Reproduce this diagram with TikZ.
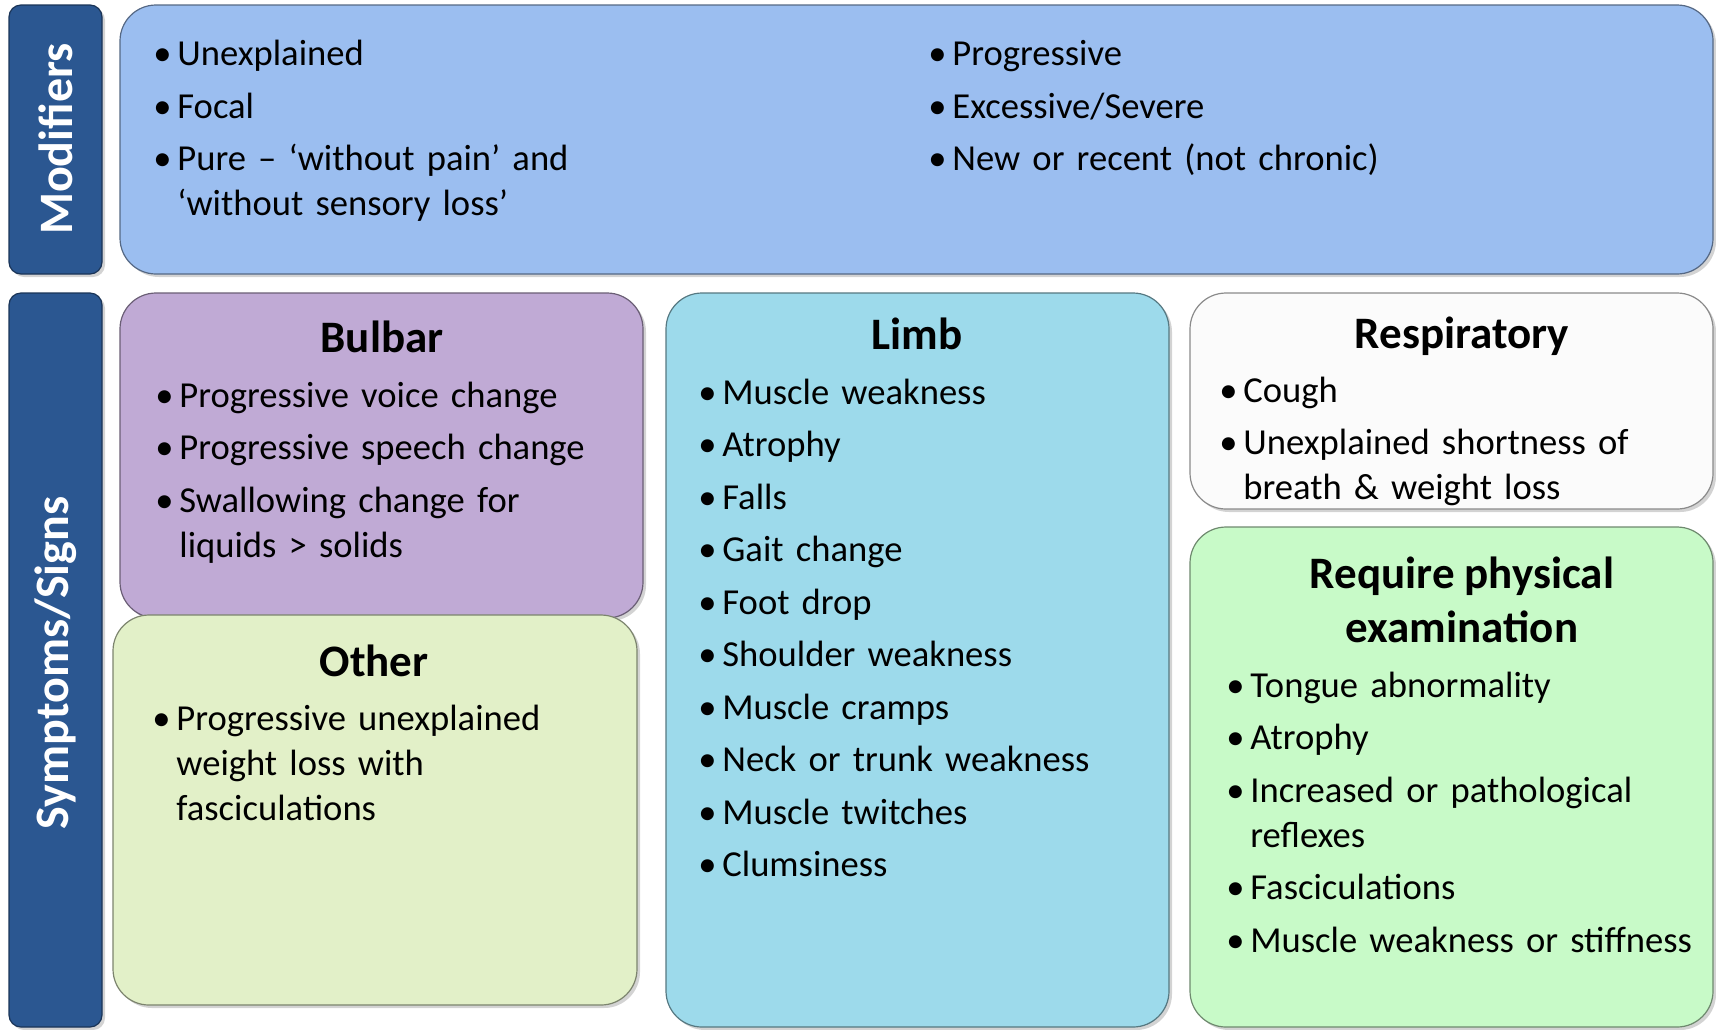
\documentclass[tikz,border=0pt]{standalone}
\usepackage{fontspec}
\setmainfont{Carlito}
\usetikzlibrary{shadows}
\definecolor{barblue}{HTML}{2B5791}
\definecolor{modblue}{HTML}{9BBEF0}
\definecolor{bulbarpurple}{HTML}{C0AAD5}
\definecolor{otherlime}{HTML}{E2F0C8}
\definecolor{limbcyan}{HTML}{9DDAEB}
\definecolor{respwhite}{HTML}{FBFBFB}
\definecolor{examgreen}{HTML}{C8FAC8}
\newcommand{\bitem}[1]{\par\noindent\hangindent=12pt\hangafter=1\strut\makebox[12pt][l]{\textbullet}#1\par}
\tikzset{
  panel/.style={fill=#1, draw=#1!55!black, line width=0.6pt, rounded corners=18pt,
    drop shadow={opacity=0.35, shadow xshift=1.5pt, shadow yshift=-1.5pt}},
  sidebar/.style={fill=barblue, draw=barblue!60!black, line width=0.6pt, rounded corners=6pt,
    drop shadow={opacity=0.35, shadow xshift=1.5pt, shadow yshift=-1.5pt}},
  sidelabel/.style={rotate=90, text=white, font=\bfseries\fontsize{24}{28}\selectfont},
  heading/.style={anchor=base, align=center, font=\bfseries\fontsize{22.5}{27}\selectfont},
  bullets/.style={anchor=north west, inner sep=0pt, text width=300pt,
    font=\fontsize{18.3}{22.5}\selectfont, execute at begin node={\setlength{\parskip}{3.75pt}}}
}

\begin{document}
\begin{tikzpicture}[x=0.5pt, y=-0.5pt]
  \useasboundingbox (0,0) rectangle (1716,1029);
  \clip (0,0) rectangle (1716,1029);

  \path[sidebar] (9,5) rectangle (102,274);
  \path[sidebar] (9,293) rectangle (102,1027);
  \path[panel=modblue] (120,5) rectangle (1713,274);
  \path[panel=bulbarpurple] (120,293) rectangle (643,618);
  \path[panel=otherlime] (113,615) rectangle (637,1005);
  \path[panel=limbcyan] (666,293) rectangle (1169,1027);
  \path[panel=respwhite] (1190,293) rectangle (1713,509);
  \path[panel=examgreen] (1190,527) rectangle (1713,1027);

  \node[sidelabel] (modlabel) at (56,139) {Modifiers};
  \node[sidelabel] (symlabel) at (56,663) {Symptoms/Signs};

  \node[bullets] (modleft) at (153,13) {%
    \bitem{Unexplained}
    \bitem{Focal}
    \bitem{Pure – ‘without pain’ and\newline‘without sensory loss’}};
  \node[bullets] (modright) at (928,13) {%
    \bitem{Progressive}
    \bitem{Excessive/Severe}
    \bitem{New or recent (not chronic)}};

  \node[heading] (bulbartitle) at (382,352) {Bulbar};
  \node[bullets] (bulbarlist) at (155,354.5) {%
    \bitem{Progressive voice change}
    \bitem{Progressive speech change}
    \bitem{Swallowing change for\newline liquids > solids}};

  \node[heading] (othertitle) at (374,676) {Other};
  \node[bullets] (otherlist) at (152,677.5) {%
    \bitem{Progressive unexplained\newline weight loss with\newline fasciculations}};

  \node[heading] (limbtitle) at (917,349) {Limb};
  \node[bullets] (limblist) at (698,351.5) {%
    \bitem{Muscle weakness}
    \bitem{Atrophy}
    \bitem{Falls}
    \bitem{Gait change}
    \bitem{Foot drop}
    \bitem{Shoulder weakness}
    \bitem{Muscle cramps}
    \bitem{Neck or trunk weakness}
    \bitem{Muscle twitches}
    \bitem{Clumsiness}};

  \node[heading] (resptitle) at (1462,348) {Respiratory};
  \node[bullets] (resplist) at (1219,349.5) {%
    \bitem{Cough}
    \bitem{Unexplained shortness of\newline breath \& weight loss}};

  \node[heading] (examtitle) at (1462,642) {Require physical\\examination};
  \node[bullets] (examlist) at (1226,644.5) {%
    \bitem{Tongue abnormality}
    \bitem{Atrophy}
    \bitem{Increased or pathological\newline reflexes}
    \bitem{Fasciculations}
    \bitem{Muscle weakness or stiffness}};
\end{tikzpicture}
\end{document}
